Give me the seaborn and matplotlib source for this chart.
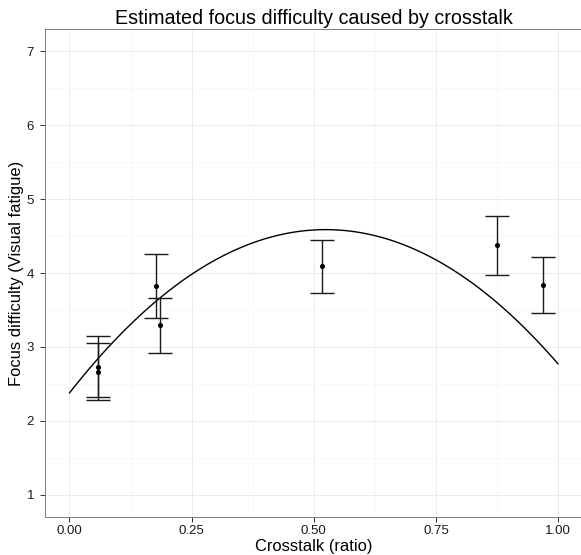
import numpy as np
import pandas as pd
import matplotlib
matplotlib.use("Agg")
import matplotlib.pyplot as plt
import seaborn as sns
from matplotlib.ticker import FixedLocator, MultipleLocator

# ---- data ----
crosstalk = [0.059, 0.059, 0.178, 0.186, 0.516, 0.874, 0.969]
difficulty = [2.73, 2.665, 3.82, 3.29, 4.09, 4.375, 3.843]
ci_low = [2.315, 2.28, 3.384, 2.915, 3.726, 3.973, 3.465]
ci_high = [3.149, 3.054, 4.257, 3.658, 4.451, 4.776, 4.216]

curve_x = [0.0, 0.25, 0.5, 0.75, 1.0]
curve_y = [2.372, 3.99, 4.575, 4.18, 2.769]

x_ticks = [0.0, 0.25, 0.5, 0.75, 1.0]
x_tick_labels = ["0.00", "0.25", "0.50", "0.75", "1.00"]
y_ticks = [1, 2, 3, 4, 5, 6, 7]

title = "Estimated focus difficulty caused by crosstalk"
xlabel = "Crosstalk (ratio)"
ylabel = "Focus difficulty (Visual fatigue)"

pts = pd.DataFrame({"x": crosstalk, "y": difficulty, "lo": ci_low, "hi": ci_high})
curve = pd.DataFrame({"x": curve_x, "y": curve_y})

sns.set_style("white")
plt.rcParams["font.family"] = ["Liberation Sans", "DejaVu Sans"]

DPI = 72
W, H = 581, 555
fig = plt.figure(figsize=(W / DPI, H / DPI), dpi=DPI)
ax = fig.add_axes([45 / W, 1 - 516.7 / H, (582.5 - 45) / W, (516.7 - 29.3) / H])

# grid
ax.set_axisbelow(True)
ax.xaxis.set_minor_locator(MultipleLocator(0.125))
ax.yaxis.set_minor_locator(MultipleLocator(0.5))
ax.grid(which="minor", color="#F7F7F7", linewidth=0.8)
ax.grid(which="major", color="#EBEBEB", linewidth=1.0)

# fitted curve
sns.regplot(data=curve, x="x", y="y", order=2, ci=None, scatter=False,
            truncate=True, ax=ax, line_kws={"color": "black", "linewidth": 1.4})

# error bars
ax.errorbar(pts["x"], pts["y"],
            yerr=[pts["y"] - pts["lo"], pts["hi"] - pts["y"]],
            fmt="none", ecolor="#1a1a1a", elinewidth=1.4, capsize=12,
            capthick=1.4, zorder=3)

# points
sns.scatterplot(data=pts, x="x", y="y", color="black", s=26,
                edgecolor="black", linewidth=0, ax=ax, zorder=4)

ax.set_xlim(-0.05, 1.05)
ax.set_ylim(0.7, 7.3)
ax.xaxis.set_major_locator(FixedLocator(x_ticks))
ax.set_xticklabels(x_tick_labels)
ax.yaxis.set_major_locator(FixedLocator(y_ticks))

for s in ax.spines.values():
    s.set_color("#7F7F7F")
    s.set_linewidth(1.0)

ax.tick_params(axis="both", which="major", direction="out", length=5, width=1,
               color="#333333", labelcolor="#1a1a1a", labelsize=13.2,
               bottom=True, left=True)
ax.tick_params(axis="x", which="major", pad=3)
ax.tick_params(axis="y", which="major", pad=6)
ax.tick_params(axis="both", which="minor", length=0)

ax.set_xlabel("")
ax.set_ylabel("")
fig.text(313.7 / W, 1 - 23.5 / H, title, fontsize=19.8, color="black",
         ha="center", va="baseline")
fig.text(313.7 / W, 1 - 551 / H, xlabel, fontsize=16.5, color="black",
         ha="center", va="baseline")
fig.text(17 / W, 1 - 273 / H, ylabel, fontsize=16.5, color="black",
         ha="center", va="center", rotation=90)

fig.savefig("out.png", dpi=DPI)
